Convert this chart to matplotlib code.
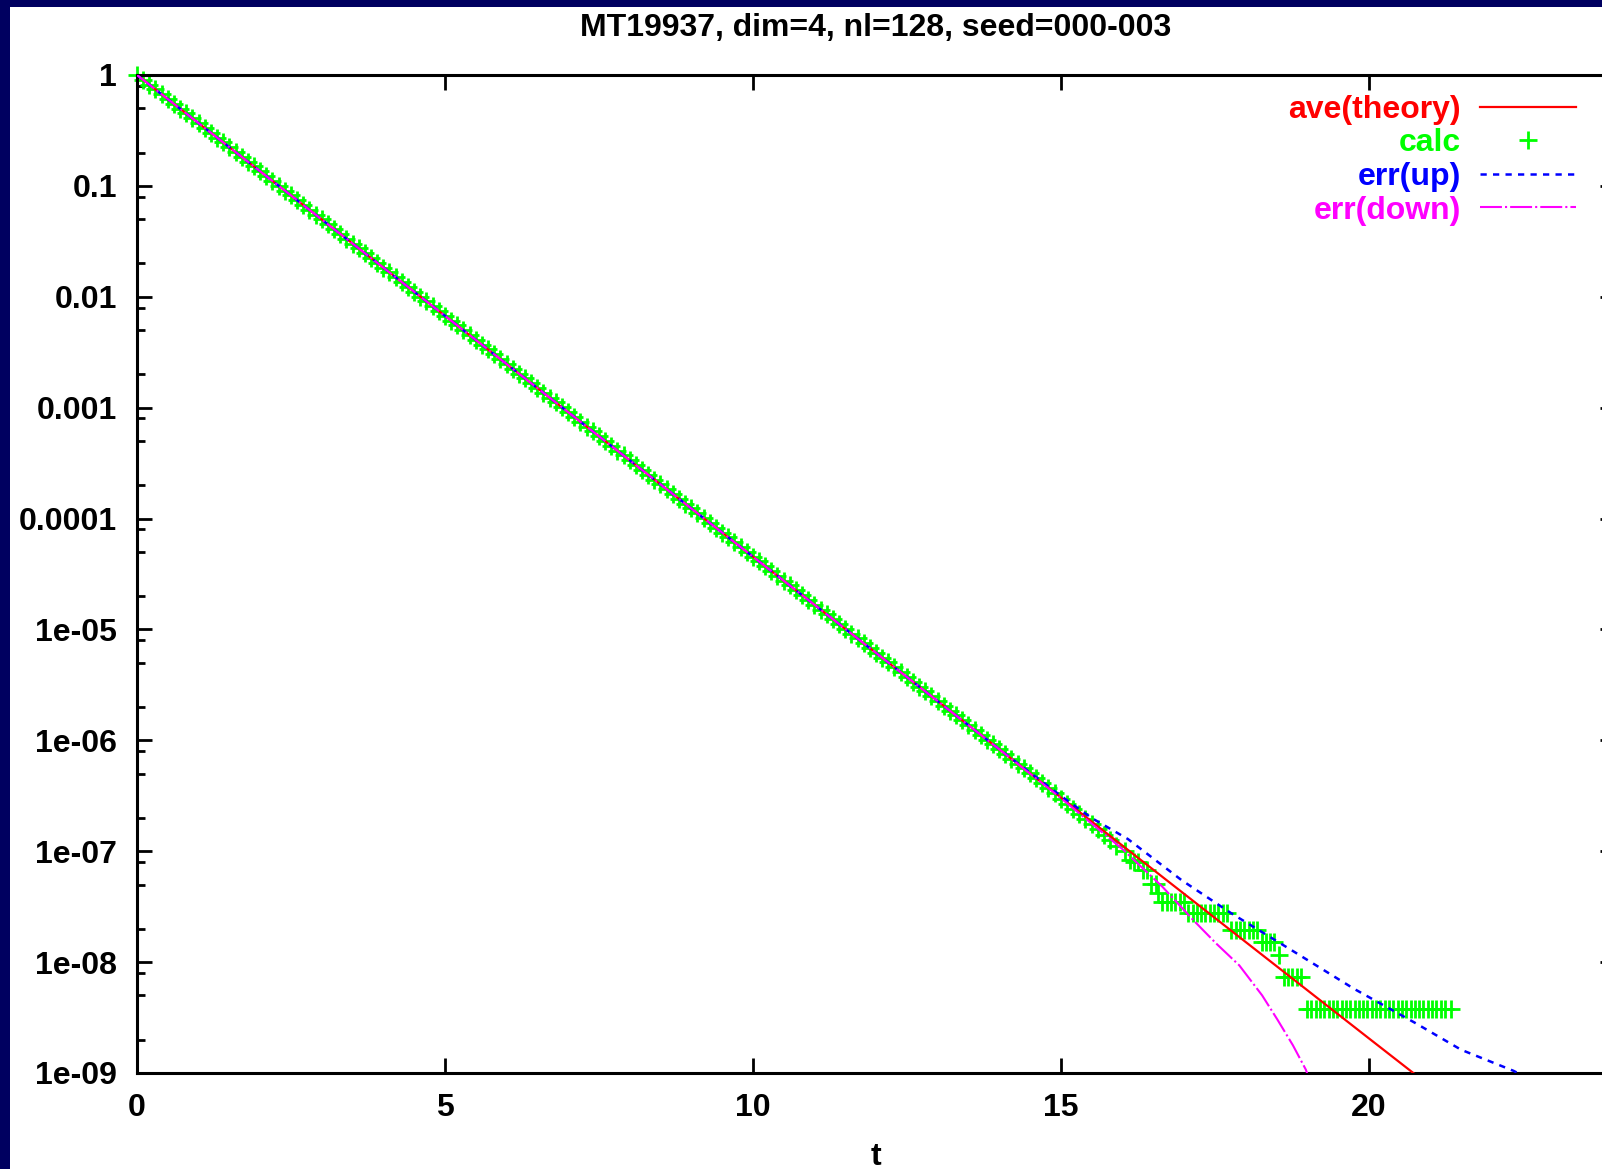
import matplotlib
matplotlib.use("Agg")
import matplotlib.pyplot as plt
from matplotlib.patches import Rectangle
from matplotlib.ticker import FixedLocator, NullFormatter
import numpy as np

plt.rcParams["font.family"] = ["Liberation Sans", "DejaVu Sans"]
plt.rcParams["font.weight"] = "bold"
plt.rcParams["lines.scale_dashes"] = False

TITLE = "MT19937, dim=4, nl=128, seed=000-003"
NAVY = "#000060"

# theory curve
theory_t = [0, 5, 10, 15, 20, 21]
theory_y = [1.0, 6.74e-3, 4.54e-5, 3.06e-7, 2.06e-9, 7.6e-10]

# calc: log10 of the measured values, t in steps of 0.1 up to 15.9
calc_dense_logy = [
    0.000, -0.043, -0.087, -0.130, -0.174, -0.217, -0.261, -0.304, -0.347, -0.391,
    -0.434, -0.478, -0.521, -0.565, -0.608, -0.651, -0.695, -0.738, -0.782, -0.825,
    -0.869, -0.912, -0.955, -0.999, -1.042, -1.086, -1.129, -1.173, -1.216, -1.259,
    -1.303, -1.346, -1.390, -1.433, -1.477, -1.520, -1.563, -1.607, -1.650, -1.694,
    -1.737, -1.781, -1.824, -1.867, -1.911, -1.954, -1.998, -2.041, -2.085, -2.128,
    -2.171, -2.215, -2.258, -2.302, -2.345, -2.389, -2.432, -2.475, -2.519, -2.562,
    -2.606, -2.649, -2.693, -2.736, -2.779, -2.823, -2.866, -2.910, -2.953, -2.997,
    -3.040, -3.083, -3.127, -3.170, -3.214, -3.257, -3.301, -3.344, -3.387, -3.431,
    -3.474, -3.518, -3.561, -3.605, -3.648, -3.691, -3.735, -3.778, -3.822, -3.865,
    -3.909, -3.952, -3.995, -4.039, -4.082, -4.126, -4.169, -4.213, -4.256, -4.299,
    -4.343, -4.386, -4.430, -4.473, -4.517, -4.560, -4.603, -4.647, -4.690, -4.734,
    -4.777, -4.821, -4.864, -4.907, -4.951, -4.994, -5.038, -5.081, -5.125, -5.168,
    -5.212, -5.255, -5.298, -5.342, -5.385, -5.429, -5.472, -5.516, -5.559, -5.602,
    -5.646, -5.689, -5.733, -5.776, -5.820, -5.863, -5.906, -5.950, -5.993, -6.037,
    -6.080, -6.124, -6.167, -6.210, -6.254, -6.297, -6.341, -6.384, -6.428, -6.471,
    -6.530, -6.575, -6.620, -6.665, -6.710, -6.755, -6.800, -6.850, -6.900, -6.950,
]
calc_dense_t = [round(0.1 * i, 1) for i in range(len(calc_dense_logy))]

# calc tail, where single counts become visible
calc_tail_t = [
    16.05, 16.12, 16.19, 16.26, 16.33, 16.40, 16.47, 16.54, 16.58, 16.65,
    16.72, 16.79, 16.86, 16.93, 17.00, 17.07, 17.14, 17.21, 17.28, 17.35,
    17.42, 17.49, 17.56, 17.63, 17.70, 17.77, 17.84, 17.91, 17.98, 18.05,
    18.12, 18.19, 18.26, 18.33, 18.40, 18.47, 18.55, 18.62, 18.69, 18.76,
    18.83, 18.90,
    19.00, 19.07, 19.14, 19.21, 19.28, 19.35, 19.42, 19.49, 19.56, 19.63,
    19.70, 19.77, 19.84, 19.91, 19.98, 20.05, 20.12, 20.19, 20.26, 20.33,
    20.40, 20.47, 20.54, 20.61, 20.68, 20.75, 20.82, 20.89, 20.96, 21.03,
    21.10, 21.17, 21.24, 21.33,
]
calc_tail_logy = [
    -7.00, -7.08, -7.10, -7.10, -7.17, -7.17, -7.30, -7.30, -7.38, -7.46,
    -7.46, -7.46, -7.46, -7.46, -7.46, -7.56, -7.56, -7.56, -7.56, -7.56,
    -7.56, -7.56, -7.56, -7.56, -7.56, -7.71, -7.71, -7.71, -7.71, -7.71,
    -7.71, -7.71, -7.82, -7.82, -7.82, -7.82, -7.94, -8.13, -8.13, -8.13,
    -8.13, -8.13,
    -8.42, -8.42, -8.42, -8.42, -8.42, -8.42, -8.42, -8.42, -8.42, -8.42,
    -8.42, -8.42, -8.42, -8.42, -8.42, -8.42, -8.42, -8.42, -8.42, -8.42,
    -8.42, -8.42, -8.42, -8.42, -8.42, -8.42, -8.42, -8.42, -8.42, -8.42,
    -8.42, -8.42, -8.42, -8.42,
]

# error band (log10)
err_up_t = [0, 14, 15, 15.5, 16.09, 16.96, 17.77, 18.77, 19.76, 20.76, 21.5, 22.35, 22.6]
err_up_logy = [0, -6.08, -6.50, -6.70, -6.89, -7.26, -7.56, -7.90, -8.24, -8.55, -8.79, -8.98, -9.05]
err_down_t = [0, 14, 15, 15.5, 16.0, 16.65, 17.15, 17.52, 17.9, 18.27, 18.52, 18.77, 18.98, 19.05]
err_down_logy = [0, -6.08, -6.52, -6.75, -6.98, -7.32, -7.62, -7.83, -8.03, -8.30, -8.52, -8.75, -8.97, -9.08]

x_ticks = [0, 5, 10, 15, 20]
y_ticks = [1, 1e-1, 1e-2, 1e-3, 1e-4, 1e-5, 1e-6, 1e-7, 1e-8, 1e-9]
y_tick_labels = ["1", "0.1", "0.01", "0.001", "0.0001", "1e-05", "1e-06", "1e-07", "1e-08", "1e-09"]

W, H = 1602, 1169
fig = plt.figure(figsize=(W / 100, H / 100), dpi=100, facecolor=NAVY)
fig.patches.append(Rectangle((10 / W, 0), 1, 1 - 7 / H, transform=fig.transFigure,
                             facecolor="white", edgecolor="none", zorder=-10))
ax = fig.add_axes([137 / W, 1 - 1073 / H, 1478 / W, 998 / H])
ax.set_zorder(5)
ax.set_facecolor("white")

calc_t = calc_dense_t + calc_tail_t
calc_y = 10 ** np.array(calc_dense_logy + calc_tail_logy)

ax.plot(calc_t, calc_y, ls="none", marker="+", ms=13, mew=2.0, color="#00ff00",
        label="calc", clip_on=False, zorder=2)
ax.plot(theory_t, theory_y, color="#ff0000", lw=1.6, label="ave(theory)", zorder=3)
ax.plot(err_up_t, 10 ** np.array(err_up_logy), color="#0000ff", lw=1.8,
        dashes=(4.5, 4.5), label="err(up)", zorder=3)
ax.plot(err_down_t, 10 ** np.array(err_down_logy), color="#ff00ff", lw=1.5,
        dashes=(15.8, 2.2, 1.5, 2.2), label="err(down)", zorder=3)

ax.set_yscale("log")
ax.set_xlim(0, 24)
ax.set_ylim(1e-9, 1)

ax.xaxis.set_major_locator(FixedLocator(x_ticks))
ax.set_xticklabels([str(v) for v in x_ticks])
ax.yaxis.set_major_locator(FixedLocator(y_ticks))
ax.set_yticklabels(y_tick_labels)
minor = [m * 10.0 ** e for e in range(-9, 0) for m in (2, 5, 8)]
ax.yaxis.set_minor_locator(FixedLocator(minor))
ax.yaxis.set_minor_formatter(NullFormatter())

for s in ax.spines.values():
    s.set_linewidth(2.2)
ax.tick_params(which="both", direction="in", top=True, right=True, width=2.0,
               labelsize=23, pad=14.4, colors="black")
ax.tick_params(which="major", length=10.8)
ax.tick_params(which="minor", length=5.8)

ax.set_xlabel("t", fontsize=23, fontweight="bold")
ax.xaxis.set_label_coords(0.5, -0.069)

fig.text(876 / W, 1 - 28 / H, TITLE, ha="center", va="center", fontsize=23, fontweight="bold")

handles, labels = ax.get_legend_handles_labels()
order = [1, 0, 2, 3]
leg = ax.legend([handles[i] for i in order], [labels[i] for i in order],
                loc="upper right", bbox_to_anchor=(0.9736, 0.980), frameon=False,
                markerfirst=False, labelcolor="linecolor", fontsize=23,
                handlelength=3.0, handletextpad=0.6, labelspacing=0.11,
                borderpad=0, borderaxespad=0, numpoints=1)

fig.savefig("out.png", dpi=100, facecolor=NAVY)
